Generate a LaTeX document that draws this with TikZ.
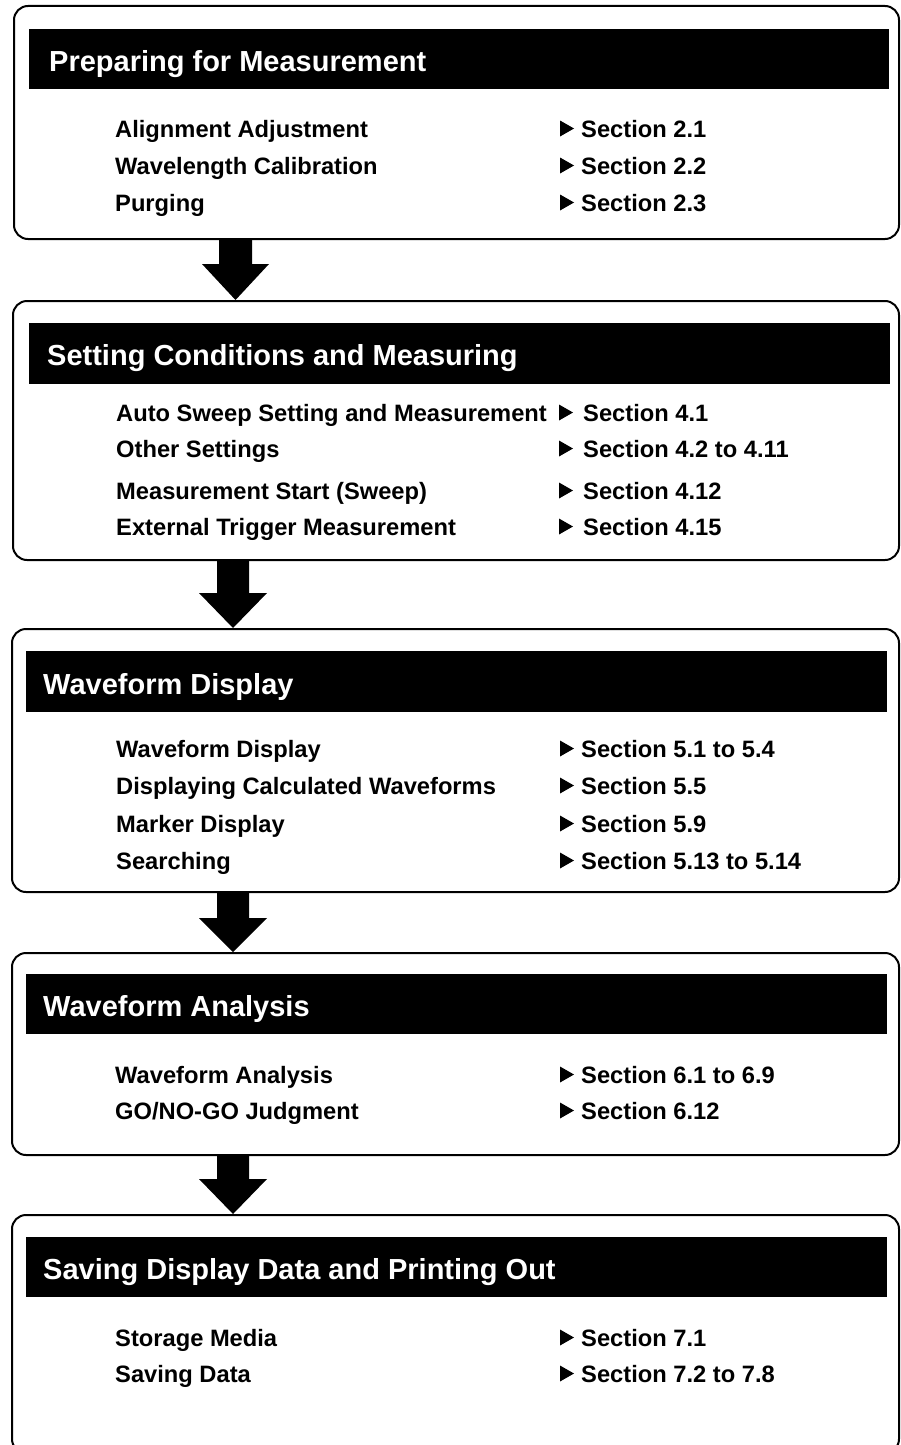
\documentclass[tikz,border=0pt]{standalone}
\usepackage{fontspec}
\setmainfont{Liberation Sans}
\usetikzlibrary{calc,positioning}

\begin{document}
\begin{tikzpicture}[x=1pt, y=-1pt]
%cadres arrondis, bandeaux noirs et textes
\tikzset{cadre/.style={draw, line width=2pt, rounded corners=14pt, anchor=north west, inner sep=0pt}}
\tikzset{bandeau/.style={fill=black, anchor=north west, inner sep=0pt, minimum height=60pt}}
\tikzset{titre/.style={anchor=base west, white, inner sep=0pt, font=\fontsize{29}{34}\selectfont\bfseries}}
\tikzset{item/.style={anchor=base west, inner sep=0pt, font=\fontsize{23.7}{28}\selectfont\bfseries}}
\tikzset{fleche/.style={fill=black}} %grosse flèche entre deux cadres
\useasboundingbox (0,0) rectangle (900,1445);

% bloc 1
\node[cadre, minimum width=885pt, minimum height=233pt] (b1) at (13,5) {};
\node[bandeau, minimum width=860pt] (h1) at (29,29) {};
\node[titre] (t1) at (49,71) {Preparing for Measurement};
\node[item] (p11) at (115,137) {Alignment Adjustment};
\node[item] (p12) at (115,174) {Wavelength Calibration};
\node[item] (p13) at (115,211) {Purging};
\node[item] (s11) at (581,137) {Section 2.1};
\node[item] (s12) at (581,174) {Section 2.2};
\node[item] (s13) at (581,211) {Section 2.3};

% bloc 2
\node[cadre, minimum width=886pt, minimum height=259pt] (b2) at (12,300) {};
\node[bandeau, minimum width=861pt, minimum height=61pt] (h2) at (29,323) {};
\node[titre] (t2) at (47,365) {Setting Conditions and Measuring};
\node[item] (p21) at (116,421) {Auto Sweep Setting and Measurement};
\node[item] (p22) at (116,457) {Other Settings};
\node[item] (p23) at (116,499) {Measurement Start (Sweep)};
\node[item] (p24) at (116,535) {External Trigger Measurement};
\node[item] (s21) at (583,421) {Section 4.1};
\node[item] (s22) at (583,457) {Section 4.2 to 4.11};
\node[item] (s23) at (583,499) {Section 4.12};
\node[item] (s24) at (583,535) {Section 4.15};

% bloc 3
\node[cadre, minimum width=887pt, minimum height=263pt] (b3) at (11,628) {};
\node[bandeau, minimum width=861pt, minimum height=61pt] (h3) at (26,651) {};
\node[titre] (t3) at (43,694) {Waveform Display};
\node[item] (p31) at (116,757) {Waveform Display};
\node[item] (p32) at (116,794) {Displaying Calculated Waveforms};
\node[item] (p33) at (116,832) {Marker Display};
\node[item] (p34) at (116,869) {Searching};
\node[item] (s31) at (581,757) {Section 5.1 to 5.4};
\node[item] (s32) at (581,794) {Section 5.5};
\node[item] (s33) at (581,832) {Section 5.9};
\node[item] (s34) at (581,869) {Section 5.13 to 5.14};

% bloc 4
\node[cadre, minimum width=887pt, minimum height=202pt] (b4) at (11,952) {};
\node[bandeau, minimum width=861pt] (h4) at (26,974) {};
\node[titre] (t4) at (43,1016) {Waveform Analysis};
\node[item] (p41) at (115,1083) {Waveform Analysis};
\node[item] (p42) at (115,1119) {GO/NO-GO Judgment};
\node[item] (s41) at (581,1083) {Section 6.1 to 6.9};
\node[item] (s42) at (581,1119) {Section 6.12};

% bloc 5 (coupé en bas)
\node[cadre, minimum width=887pt, minimum height=238pt] (b5) at (11,1214) {};
\node[bandeau, minimum width=861pt] (h5) at (26,1237) {};
\node[titre] (t5) at (43,1279) {Saving Display Data and Printing Out};
\node[item] (p51) at (115,1346) {Storage Media};
\node[item] (p52) at (115,1382) {Saving Data};
\node[item] (s51) at (581,1346) {Section 7.1};
\node[item] (s52) at (581,1382) {Section 7.2 to 7.8};

% petits triangles devant les renvois
\foreach \s in {s11,s12,s13,s31,s32,s33,s34,s41,s42,s51,s52}
  \fill ([xshift=-21pt,yshift=0.5pt]\s.base west) -- ++(0,-16) -- ++(14,8) -- cycle;
\foreach \s in {s21,s22,s23,s24}
  \fill ([xshift=-24pt,yshift=0.5pt]\s.base west) -- ++(0,-16) -- ++(14,8) -- cycle;

% flèches entre les blocs
\coordinate (a1) at (235.5,0);
\coordinate (a2) at (233,0);
\fill[fleche] let \p1=(b1.south -| a1), \p2=(b2.north -| a1) in (\x1-16.5,\y1) -- (\x1+16.5,\y1) -- (\x1+16.5,\y2+36) -- (\x1+33.5,\y2+36) -- (\x2,\y2) -- (\x1-33.5,\y2+36) -- (\x1-16.5,\y2+36) -- cycle;
\fill[fleche] let \p1=(b2.south -| a2), \p2=(b3.north -| a2) in (\x1-16,\y1) -- (\x1+16,\y1) -- (\x1+16,\y2+35) -- (\x1+34,\y2+35) -- (\x2,\y2) -- (\x1-34,\y2+35) -- (\x1-16,\y2+35) -- cycle;
\fill[fleche] let \p1=(b3.south -| a2), \p2=(b4.north -| a2) in (\x1-16,\y1) -- (\x1+16,\y1) -- (\x1+16,\y2+34) -- (\x1+34,\y2+34) -- (\x2,\y2) -- (\x1-34,\y2+34) -- (\x1-16,\y2+34) -- cycle;
\fill[fleche] let \p1=(b4.south -| a2), \p2=(b5.north -| a2) in (\x1-16,\y1) -- (\x1+16,\y1) -- (\x1+16,\y2+35) -- (\x1+34,\y2+35) -- (\x2,\y2) -- (\x1-34,\y2+35) -- (\x1-16,\y2+35) -- cycle;
\end{tikzpicture}
\end{document}
